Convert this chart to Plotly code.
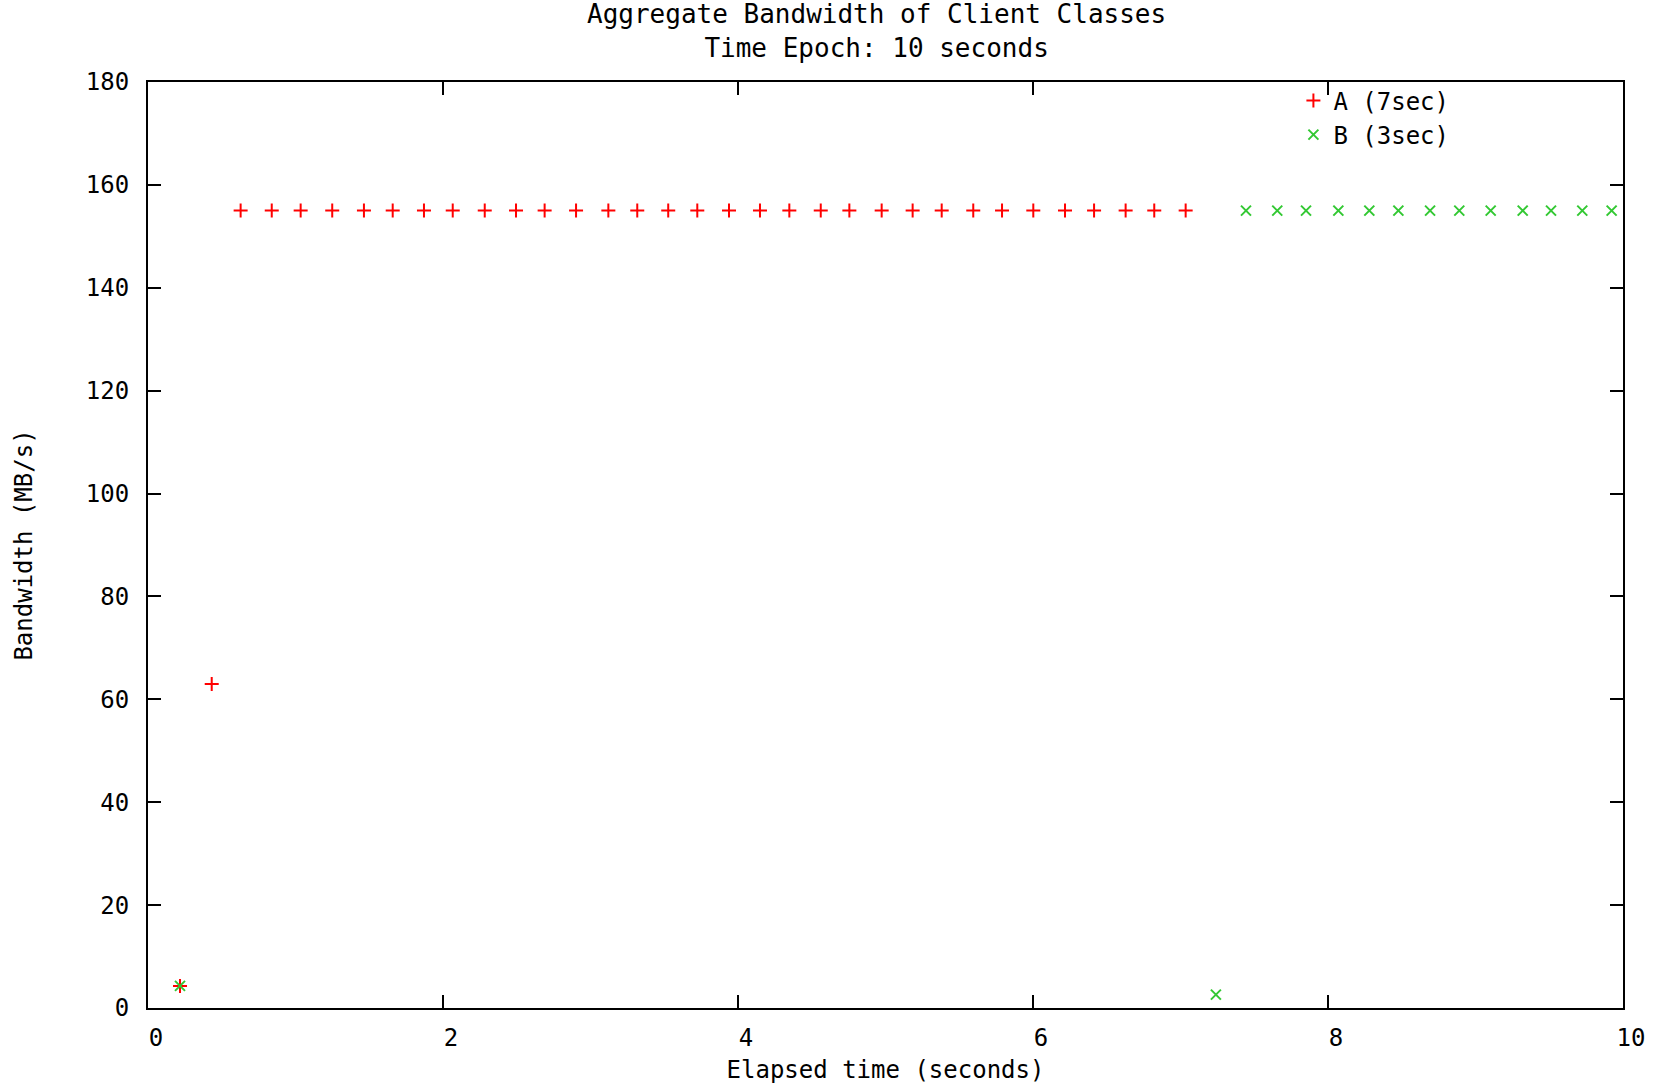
import plotly.graph_objects as go

# Class A (7sec) samples
a_time = [0.217, 0.432, 0.628, 0.839, 1.035, 1.249, 1.464, 1.659, 1.871, 2.066,
          2.283, 2.495, 2.689, 2.902, 3.121, 3.317, 3.527, 3.724, 3.939, 4.149,
          4.348, 4.561, 4.755, 4.974, 5.184, 5.381, 5.595, 5.790, 6.002, 6.217,
          6.414, 6.628, 6.822, 7.035]
a_bw = [4.3, 63] + [155] * 32

# Class B (3sec) samples
b_time = [0.217, 7.24, 7.444, 7.656, 7.851, 8.070, 8.280, 8.477, 8.692, 8.890,
          9.103, 9.320, 9.512, 9.724, 9.923]
b_bw = [4.3, 2.6] + [155] * 13

x_ticks = [0, 2, 4, 6, 8, 10]
y_ticks = [0, 20, 40, 60, 80, 100, 120, 140, 160, 180]

title_lines = ["Aggregate Bandwidth of Client Classes", "Time Epoch: 10 seconds"]

FONT = "DejaVu Sans Mono"

fig = go.Figure()
fig.add_trace(go.Scatter(
    x=a_time, y=a_bw, mode="markers", name="A (7sec)",
    marker=dict(symbol="cross-thin", size=10, line=dict(color="#ff0000", width=2), color="#ff0000"),
))
fig.add_trace(go.Scatter(
    x=b_time, y=b_bw, mode="markers", name="B (3sec)",
    marker=dict(symbol="x-thin", size=10, line=dict(color="#33c833", width=2), color="#33c833"),
))

axis_common = dict(
    showline=True, linewidth=2, linecolor="black", mirror="ticks",
    ticks="inside", ticklen=13, tickwidth=2, tickcolor="black",
    showgrid=False, zeroline=False, automargin=False,
    tickfont=dict(family=FONT, size=24, color="black"),
)

# Two-line title as a single centred text block
fig.add_annotation(text="<br>".join(title_lines), xref="paper", yref="paper", x=0.4936, y=1.0553,
                   xanchor="center", yanchor="middle", showarrow=False, align="center",
                   font=dict(family=FONT, size=26, color="black"))

fig.update_layout(
    width=1661, height=1084,
    margin=dict(l=148, r=38, t=82, b=76),
    paper_bgcolor="white", plot_bgcolor="white",
    font=dict(family=FONT, color="black"),
    xaxis=dict(
        range=[0, 10], tickvals=x_ticks, ticktext=[str(v) for v in x_ticks],
        title=dict(text="Elapsed time (seconds)", font=dict(family=FONT, size=24, color="black"), standoff=14),
        ticklabelshift=8, ticklabelstandoff=7,
        **axis_common,
    ),
    yaxis=dict(
        range=[0, 180], tickvals=y_ticks, ticktext=[str(v) for v in y_ticks],
        title=dict(text="Bandwidth (MB/s)", font=dict(family=FONT, size=24, color="black"), standoff=46),
        ticklabelstandoff=12,
        **axis_common,
    ),
    legend=dict(
        x=0.8857, y=1.004, xanchor="right", yanchor="top",
        bgcolor="rgba(0,0,0,0)", borderwidth=0,
        font=dict(family=FONT, size=24, color="black"),
        tracegroupgap=0,
    ),
    showlegend=True,
)

fig.write_html("out.html")
